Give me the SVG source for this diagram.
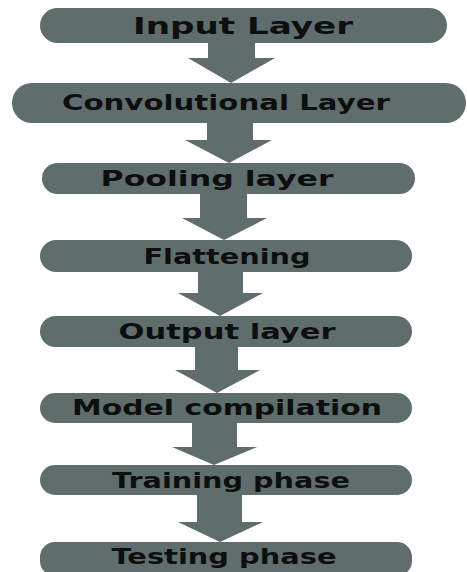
<svg xmlns="http://www.w3.org/2000/svg" width="467" height="572" viewBox="0 0 467 572">
<style>
.pill{fill:#5f6d6c}
.arr{fill:#5f6d6c}
.t{font-family:"DejaVu Sans","Liberation Sans",sans-serif;font-weight:bold;fill:#0d0f0f;text-anchor:middle}
</style>
<rect width="467" height="572" fill="#ffffff"/>
<g id="connectors">
<polygon class="arr" points="208,42 255,42 255,58 275,58 231,83 188,58 208,58"/>
<polygon class="arr" points="207,122 253,122 253,140 272,140 229,163 185,140 207,140"/>
<polygon class="arr" points="200,193 247,193 247,218 267,218 224,240 182,218 200,218"/>
<polygon class="arr" points="198,271 243,271 243,293 263,293 220,316 178,293 198,293"/>
<polygon class="arr" points="195,346 238,346 238,370 260,370 217,393 175,370 195,370"/>
<polygon class="arr" points="192,422 237,422 237,447 257,447 214,465 172,447 192,447"/>
<polygon class="arr" points="197,494 242,494 242,522 263,522 220,542 178,522 197,522"/>
</g>
<g id="n1"><rect class="pill" x="40" y="8" width="407" height="35" rx="17.5"/><text class="t" x="243" y="34" font-size="23" textLength="220" lengthAdjust="spacingAndGlyphs">Input  Layer</text></g>
<g id="n2"><rect class="pill" x="12" y="83" width="454" height="40" rx="20"/><text class="t" x="226" y="110" font-size="22" textLength="328" lengthAdjust="spacingAndGlyphs">Convolutional Layer</text></g>
<g id="n3"><rect class="pill" x="42" y="163" width="373" height="31" rx="15.5"/><text class="t" x="217" y="186" font-size="21" textLength="233" lengthAdjust="spacingAndGlyphs">Pooling layer</text></g>
<g id="n4"><rect class="pill" x="40" y="240" width="372" height="32" rx="16"/><text class="t" x="227" y="264" font-size="21" textLength="167" lengthAdjust="spacingAndGlyphs">Flattening</text></g>
<g id="n5"><rect class="pill" x="40" y="316" width="372" height="31" rx="15.5"/><text class="t" x="227" y="339" font-size="21" textLength="217" lengthAdjust="spacingAndGlyphs">Output  layer</text></g>
<g id="n6"><rect class="pill" x="40" y="393" width="372" height="30" rx="15"/><text class="t" x="227" y="415" font-size="21" textLength="310" lengthAdjust="spacingAndGlyphs">Model compilation</text></g>
<g id="n7"><rect class="pill" x="40" y="465" width="372" height="30" rx="15"/><text class="t" x="231" y="488" font-size="21" textLength="238" lengthAdjust="spacingAndGlyphs">Training phase</text></g>
<g id="n8"><rect class="pill" x="40" y="542" width="372" height="34" rx="15"/><text class="t" x="224" y="564" font-size="21" textLength="225" lengthAdjust="spacingAndGlyphs">Testing phase</text></g>
</svg>
